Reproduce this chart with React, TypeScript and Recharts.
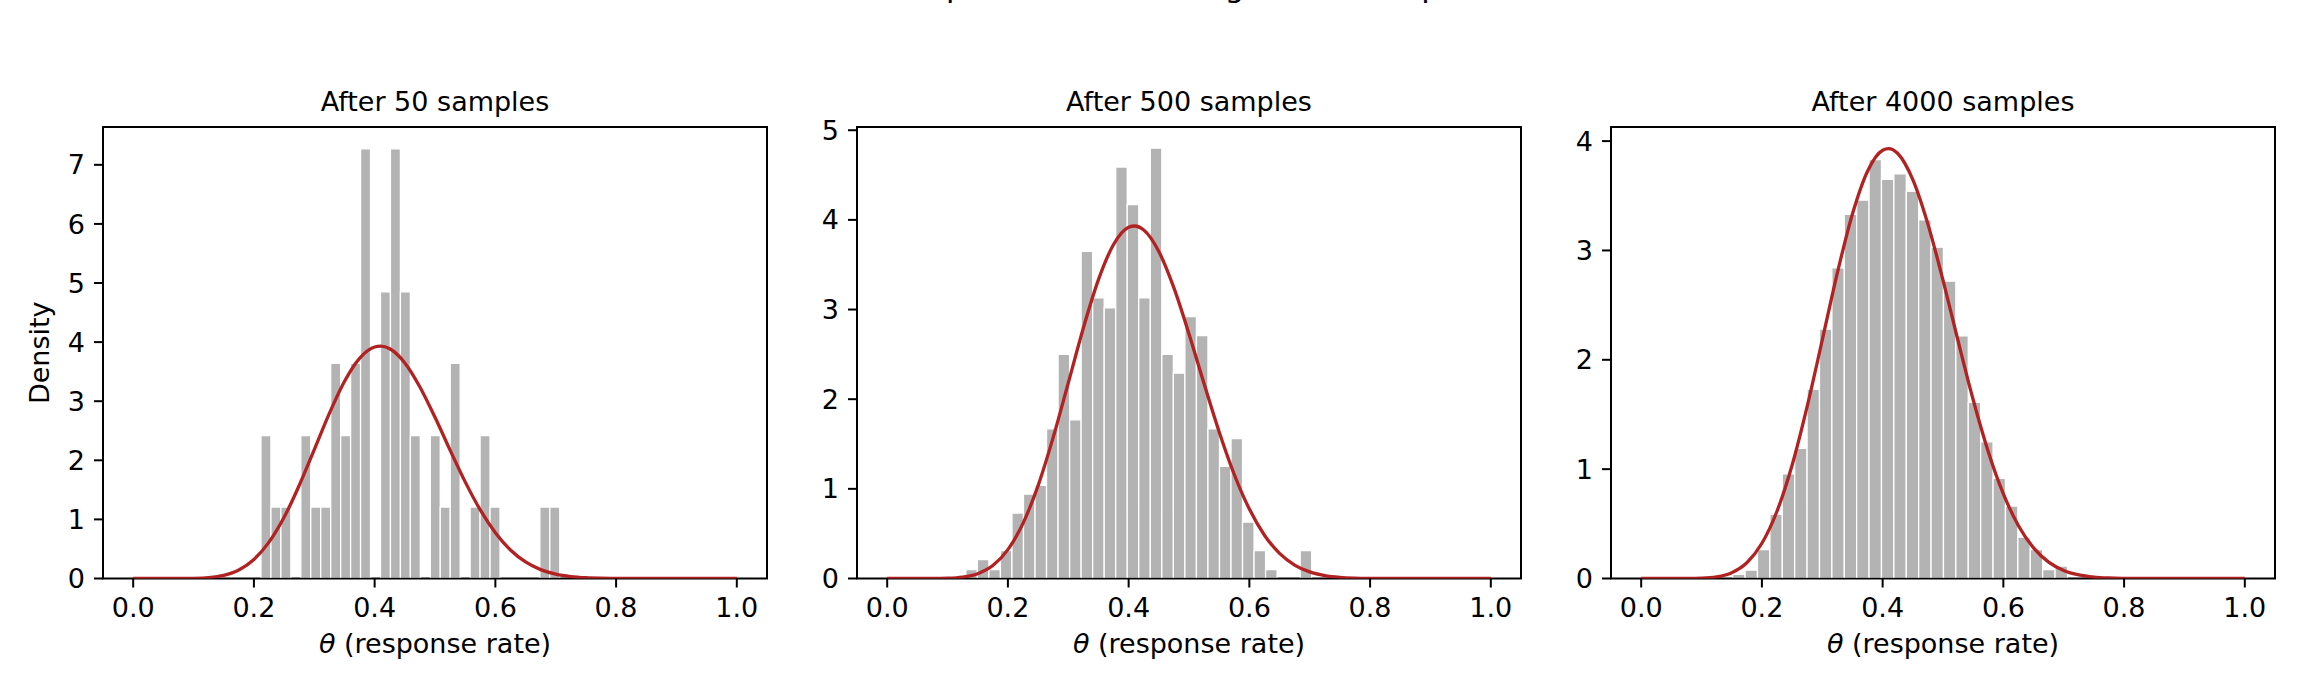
import React from "react";
import { ComposedChart, Bar, Line, XAxis, YAxis, ReferenceArea } from "recharts";

const FONT = "DejaVu Sans";
const RED = "#b22222";
const BAR_GRAY = "#b3b3b3";

const xTicks = [0, 0.2, 0.4, 0.6, 0.8, 1.0];

// exact posterior density (same in every panel)
const curveX = [
  0, 0.025, 0.05, 0.075, 0.1, 0.125, 0.15, 0.175, 0.2, 0.225, 0.25, 0.275, 0.3,
  0.325, 0.35, 0.375, 0.4, 0.41, 0.425, 0.45, 0.475, 0.5, 0.525, 0.55, 0.575,
  0.6, 0.625, 0.65, 0.675, 0.7, 0.725, 0.75, 0.775, 0.8, 0.825, 0.85, 0.9,
  0.95, 1.0,
];
const curveY = [
  0, 0, 0.00001, 0.0003, 0.0029, 0.015, 0.0532, 0.1444, 0.322, 0.615, 1.036,
  1.574, 2.181, 2.795, 3.334, 3.725, 3.917, 3.932, 3.887, 3.648, 3.241, 2.728,
  2.172, 1.635, 1.16, 0.774, 0.483, 0.28, 0.15, 0.0736, 0.0326, 0.0128, 0.0044,
  0.0013, 0.0003, 0.00005, 0, 0, 0,
];

const titles = ["After 50 samples", "After 500 samples", "After 4000 samples"];

// histogram after 50 samples
const binStart50 = 0.2117;
const binWidth50 = 0.0165;
const density50 = [
  2.42, 1.21, 1.21, 0, 2.42, 1.21, 1.21, 3.64, 2.42, 3.64, 7.27, 0, 4.85, 7.27,
  4.85, 2.42, 0, 2.42, 1.21, 3.64, 0, 1.21, 2.42, 1.21, 0, 0, 0, 0, 1.21, 1.21,
];
const yTicks50 = [0, 1, 2, 3, 4, 5, 6, 7];
const yMax50 = 7.64;

// histogram after 500 samples
const binStart500 = 0.1303;
const binWidth500 = 0.0191;
const density500 = [
  0.1, 0.21, 0.1, 0.31, 0.73, 0.94, 1.04, 1.67, 2.5, 1.77, 3.65, 3.13, 3.02,
  4.59, 4.17, 3.13, 4.8, 2.5, 2.29, 2.92, 2.71, 1.67, 1.25, 1.56, 0.63, 0.31,
  0.1, 0, 0, 0.31,
];
const yTicks500 = [0, 1, 2, 3, 4, 5];
const yMax500 = 5.036;

// histogram after 4000 samples
const binStart4000 = 0.1516;
const binWidth4000 = 0.02054;
const density4000 = [
  0.037, 0.077, 0.265, 0.586, 0.958, 1.19, 1.73, 2.28, 2.84, 3.33, 3.46, 3.83,
  3.65, 3.7, 3.54, 3.28, 3.03, 2.72, 2.22, 1.61, 1.25, 0.915, 0.662, 0.378,
  0.265, 0.082, 0.113,
];
const yTicks4000 = [0, 1, 2, 3, 4];
const yMax4000 = 4.129;

const CHART_W = 790;
const CHART_H = 691;
const MARGIN = { top: 127, right: 23, bottom: 52.5, left: 43 };
const Y_AXIS_W = 60;
const X_AXIS_H = 60;
const PLOT_W = CHART_W - MARGIN.left - MARGIN.right - Y_AXIS_W;
const X_DOMAIN: [number, number] = [-0.05, 1.05];
const PX_PER_UNIT = PLOT_W / (X_DOMAIN[1] - X_DOMAIN[0]);
const PANEL_LEFTS = [0, 754, 1508];
const SPINE_W = 2;

const curve = curveX.map((x, i) => ({ x, pdf: curveY[i] }));

// bar with white edges on top and sides; stops short of the bottom spine
function HistRect(props: any) {
  const { x, y, width, height, binPx } = props;
  if (!height || height <= 0) return null;
  const cx = x + width / 2;
  const l = cx - binPx / 2;
  const r = cx + binPx / 2;
  const bottom = y + height - SPINE_W / 2;
  if (bottom <= y) return null;
  return (
    <g>
      <rect x={l} y={y} width={binPx} height={bottom - y} fill={BAR_GRAY} />
      <path
        d={`M${l},${bottom}V${y}H${r}V${bottom}`}
        fill="none"
        stroke="#fff"
        strokeWidth={1.3}
      />
    </g>
  );
}

const xLabel = (props: any) => {
  const vb = props.viewBox;
  return (
    <text
      x={vb.x + vb.width / 2}
      y={vb.y + 74.5}
      textAnchor="middle"
      fontSize={27}
      fontFamily={FONT}
      fill="#000"
    >
      <tspan fontStyle="italic">θ</tspan>
      {" (response rate)"}
    </text>
  );
};

const yLabel = (props: any) => {
  const vb = props.viewBox;
  return (
    <text
      transform={`translate(${vb.x + 6},${vb.y + vb.height / 2}) rotate(-90)`}
      textAnchor="middle"
      fontSize={27}
      fontFamily={FONT}
      fill="#000"
    >
      Density
    </text>
  );
};

const tickStyle = { fill: "#000", fontSize: 27, fontFamily: FONT };
const tickLineStyle = { stroke: "#000", strokeWidth: SPINE_W };

function Panel(props: {
  left: number;
  binStart: number;
  binWidth: number;
  density: number[];
  yTicks: number[];
  yMax: number;
  showYLabel: boolean;
}) {
  const { left, binStart, binWidth, density, yTicks, yMax, showYLabel } = props;
  const bars = density.map((d, i) => ({
    x: binStart + (i + 0.5) * binWidth,
    density: d,
  }));
  const binPx = binWidth * PX_PER_UNIT;
  return (
    <div style={{ position: "absolute", left, top: 0 }}>
      <ComposedChart width={CHART_W} height={CHART_H} data={bars} margin={MARGIN}>
        <XAxis
          type="number"
          dataKey="x"
          domain={X_DOMAIN}
          ticks={xTicks}
          interval={0}
          allowDataOverflow
          tickFormatter={(v: number) => v.toFixed(1)}
          height={X_AXIS_H}
          axisLine={false}
          tickLine={tickLineStyle}
          tickSize={9}
          tickMargin={10.5}
          tick={tickStyle}
          label={xLabel}
        />
        <YAxis
          type="number"
          domain={[0, yMax]}
          ticks={yTicks}
          interval={0}
          allowDataOverflow
          width={Y_AXIS_W}
          axisLine={false}
          tickLine={tickLineStyle}
          tickSize={9}
          tickMargin={9}
          tick={tickStyle}
          label={showYLabel ? yLabel : undefined}
        />
        <Bar
          dataKey="density"
          barSize={binPx}
          isAnimationActive={false}
          shape={(p: any) => <HistRect {...p} binPx={binPx} />}
        />
        <Line
          data={curve}
          dataKey="pdf"
          type="monotone"
          stroke={RED}
          strokeWidth={3.3}
          dot={false}
          isAnimationActive={false}
        />
        <ReferenceArea
          x1={X_DOMAIN[0]}
          x2={X_DOMAIN[1]}
          y1={0}
          y2={yMax}
          fill="none"
          stroke="#000"
          strokeWidth={SPINE_W}
        />
      </ComposedChart>
    </div>
  );
}

export default function App() {
  return (
    <div
      style={{
        position: "absolute",
        left: 0,
        top: 0,
        width: 2304,
        height: 691,
        background: "#fff",
        overflow: "hidden",
      }}
    >
      <Panel
        left={PANEL_LEFTS[0]}
        binStart={binStart50}
        binWidth={binWidth50}
        density={density50}
        yTicks={yTicks50}
        yMax={yMax50}
        showYLabel
      />
      <Panel
        left={PANEL_LEFTS[1]}
        binStart={binStart500}
        binWidth={binWidth500}
        density={density500}
        yTicks={yTicks500}
        yMax={yMax500}
        showYLabel={false}
      />
      <Panel
        left={PANEL_LEFTS[2]}
        binStart={binStart4000}
        binWidth={binWidth4000}
        density={density4000}
        yTicks={yTicks4000}
        yMax={yMax4000}
        showYLabel={false}
      />
      <svg
        width={2304}
        height={691}
        style={{ position: "absolute", left: 0, top: 0, pointerEvents: "none" }}
      >
        {/* figure title: only its descenders fall inside the frame, as in the reference */}
        <text x={850} y={-3.5} fontSize={31} fontFamily={FONT} fill="#000">
          Exact posterior vs. histogram of samples
        </text>
        {titles.map((t, i) => (
          <text
            key={t}
            x={PANEL_LEFTS[i] + MARGIN.left + Y_AXIS_W + PLOT_W / 2}
            y={111}
            textAnchor="middle"
            fontSize={27}
            fontFamily={FONT}
            fill="#000"
          >
            {t}
          </text>
        ))}
      </svg>
    </div>
  );
}
